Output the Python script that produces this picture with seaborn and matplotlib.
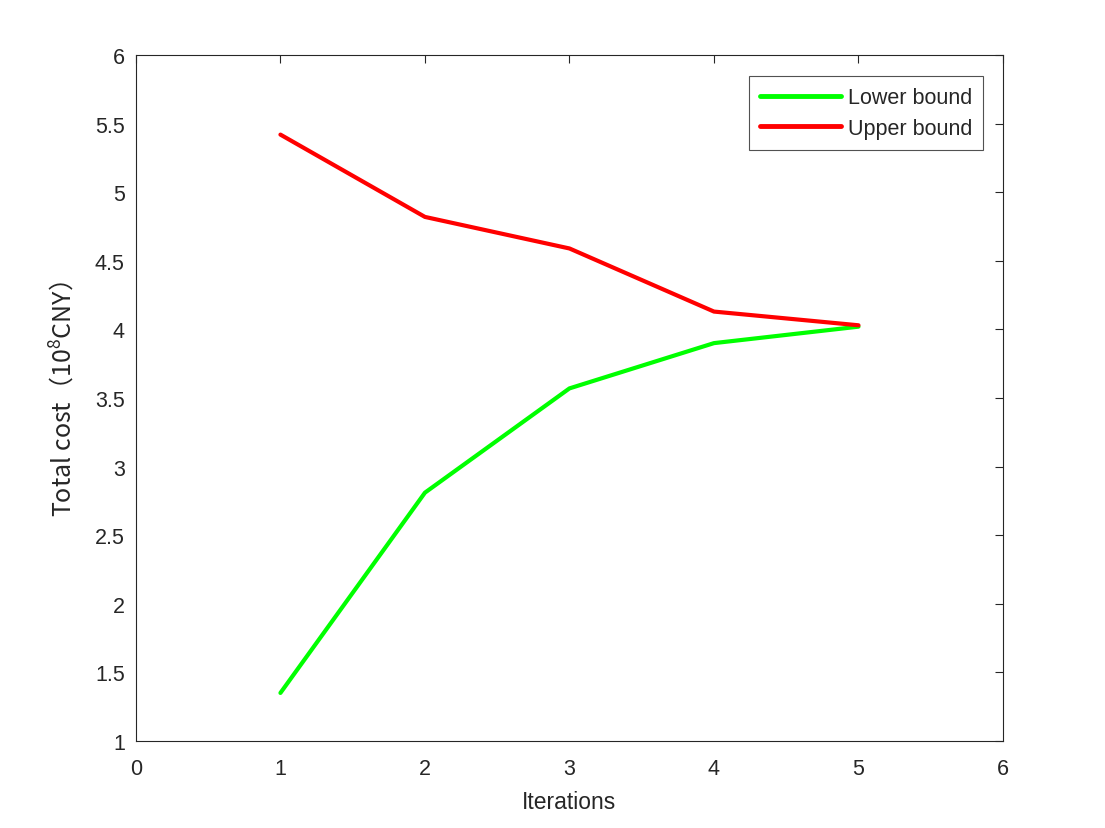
import numpy as np
import pandas as pd
import seaborn as sns
import matplotlib
matplotlib.use("Agg")
import matplotlib.pyplot as plt

iterations = [1, 2, 3, 4, 5]
lower_bound = [1.35, 2.81, 3.57, 3.90, 4.02]
upper_bound = [5.42, 4.82, 4.59, 4.13, 4.03]

sns.set_style("white")
plt.rcParams['font.family'] = ['Liberation Sans', 'Noto Sans CJK SC', 'DejaVu Sans']
plt.rcParams['mathtext.fontset'] = 'custom'
plt.rcParams['mathtext.rm'] = 'Noto Sans CJK SC'
plt.rcParams['mathtext.it'] = 'Noto Sans CJK SC'

df = pd.DataFrame({
    "Iterations": iterations * 2,
    "cost": lower_bound + upper_bound,
    "series": ["Lower bound"] * 5 + ["Upper bound"] * 5,
})

fig = plt.figure(figsize=(11.05, 8.29), dpi=100)
ax = fig.add_axes([0.123, 0.105, 0.7847, 0.8274])
sns.lineplot(data=df, x="Iterations", y="cost", hue="series",
             palette={"Lower bound": "#00ff00", "Upper bound": "#ff0000"},
             linewidth=3, ax=ax)

ax.set_xlim(0, 6)
ax.set_ylim(1, 6)
ax.set_xticks(range(0, 7))
ax.set_yticks(np.arange(1, 6.01, 0.5))
ax.set_yticklabels(["1", "1.5", "2", "2.5", "3", "3.5", "4", "4.5", "5", "5.5", "6"])
ax.tick_params(direction="in", length=6, width=0.8, colors="#262626",
               labelsize=15.5, top=True, right=True,
               labeltop=False, labelright=False)
ax.tick_params(axis="y", pad=8)
ax.tick_params(axis="x", pad=12)
for s in ax.spines.values():
    s.set_color("#262626")
    s.set_linewidth(0.8)
ax.set_xlabel("Iterations", fontsize=16.5, color="#262626", labelpad=8)
ax.set_ylabel("Total cost（$10^8$CNY）", fontsize=18, color="#262626",
              family=['Noto Sans CJK SC'], labelpad=12)

leg = ax.legend(loc="upper right", bbox_to_anchor=(0.977, 0.969), borderaxespad=0,
                fontsize=15.5, frameon=True, fancybox=False, edgecolor="#262626",
                handlelength=3.8, handletextpad=0.3, borderpad=0.5,
                labelspacing=0.45)
leg.get_frame().set_linewidth(0.8)
for line in leg.get_lines():
    line.set_linewidth(3.5)

fig.savefig("out.png", dpi=100)
